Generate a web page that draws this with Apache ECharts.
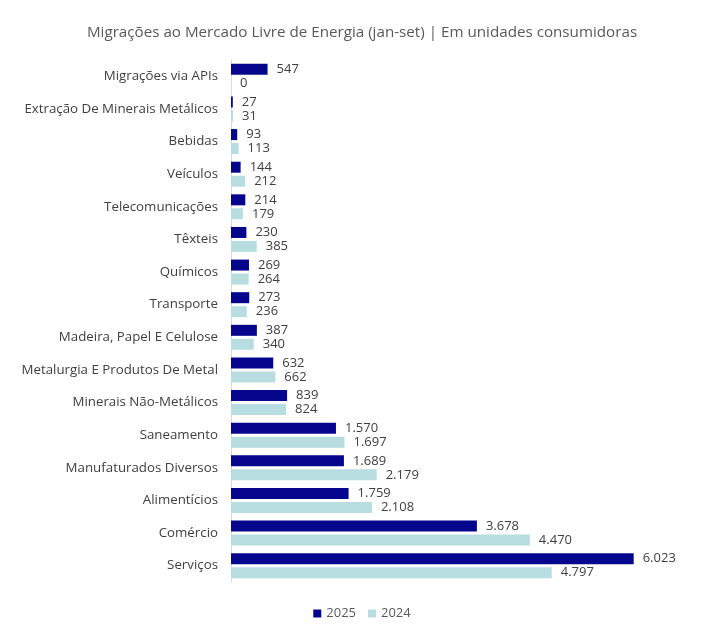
<!DOCTYPE html>
<html>
<head>
<meta charset="utf-8">
<script src="https://cdn.jsdelivr.net/npm/echarts@6/dist/echarts.min.js"></script>
<style>
  html, body { margin: 0; padding: 0; background: #fff; }
  #main { width: 724px; height: 635px; }
</style>
</head>
<body>
<div id="main"></div>
<script>
// categorias de cima para baixo
const categories = [
  "Migrações via APIs",
  "Extração De Minerais Metálicos",
  "Bebidas",
  "Veículos",
  "Telecomunicações",
  "Têxteis",
  "Químicos",
  "Transporte",
  "Madeira, Papel E Celulose",
  "Metalurgia E Produtos De Metal",
  "Minerais Não-Metálicos",
  "Saneamento",
  "Manufaturados Diversos",
  "Alimentícios",
  "Comércio",
  "Serviços"
];
const values2025 = [547, 27, 93, 144, 214, 230, 269, 273, 387, 632, 839, 1570, 1689, 1759, 3678, 6023];
const values2024 = [0, 31, 113, 212, 179, 385, 264, 236, 340, 662, 824, 1697, 2179, 2108, 4470, 4797];

const myChart = echarts.init(document.getElementById("main"));

function fmt(v) {
  return String(v).replace(/\B(?=(\d{3})+(?!\d))/g, ".");
}

const labelStyle = {
  show: true,
  position: "right",
  distance: 9,
  color: "#404040",
  fontSize: 13,
  fontFamily: "Open Sans",
  formatter: (p) => fmt(p.value)
};

const option = {
  animation: false,
  title: {
    text: "Migrações ao Mercado Livre de Energia (jan-set) | Em unidades consumidoras",
    left: "center",
    top: 20,
    textStyle: {
      color: "#595959",
      fontSize: 15.2,
      fontWeight: "normal",
      fontFamily: "Open Sans"
    }
  },
  legend: {
    data: ["2025", "2024"],
    bottom: 10,
    left: "center",
    itemWidth: 8,
    itemHeight: 8,
    itemGap: 12,
    icon: "rect",
    textStyle: { color: "#595959", fontSize: 13, fontFamily: "Open Sans" }
  },
  grid: {
    left: 231,
    right: 25,
    top: 60,
    bottom: 53,
    containLabel: false
  },
  xAxis: {
    type: "value",
    min: 0,
    max: 7000,
    show: false,
    splitLine: { show: false }
  },
  yAxis: {
    type: "category",
    data: categories,
    inverse: true,
    axisLine: { show: true, lineStyle: { color: "#d9d9d9" } },
    axisTick: { show: false },
    axisLabel: {
      color: "#404040",
      fontSize: 13.3,
      fontFamily: "Open Sans",
      margin: 13
    }
  },
  series: [
    {
      name: "2025",
      type: "bar",
      data: values2025,
      itemStyle: { color: "#06068c" },
      barWidth: 11,
      barGap: "27%",
      label: labelStyle
    },
    {
      name: "2024",
      type: "bar",
      data: values2024,
      itemStyle: { color: "#b7dde0" },
      barWidth: 11,
      label: labelStyle
    }
  ]
};

myChart.setOption(option);
</script>
</body>
</html>
